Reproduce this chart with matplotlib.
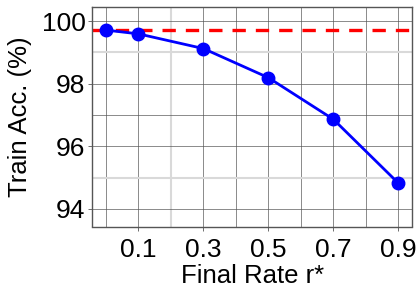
import numpy as np
import matplotlib
matplotlib.use('Agg')
import matplotlib.pyplot as plt

plt.rcParams['font.family'] = ['Liberation Sans', 'DejaVu Sans']

rates = [0.0, 0.1, 0.3, 0.5, 0.7, 0.9]
train_acc = [99.71, 99.59, 99.12, 98.19, 96.86, 94.82]
baseline = 99.72
xticks = [0.1, 0.3, 0.5, 0.7, 0.9]
yticks = [94, 96, 98, 100]

fig = plt.figure(figsize=(4.2, 3.0), dpi=100)
ax = fig.add_axes([0.22, 0.245, 0.762, 0.733])

# grid: light lines at the odd spots, thin dark lines elsewhere
for x in np.arange(0.0, 0.95, 0.1):
    if abs(x - 0.2) < 1e-6:
        ax.axvline(x, color='#d9d9d9', lw=1.5, zorder=0)
    else:
        ax.axvline(x, color='#555555', lw=0.6, alpha=0.8, zorder=0)
for y in range(94, 101):
    if y in (95, 99):
        ax.axhline(y, color='#d9d9d9', lw=1.5, zorder=0)
    else:
        ax.axhline(y, color='#555555', lw=0.6, alpha=0.8, zorder=0)

ax.axhline(baseline, color='red', lw=2.4, ls=(0, (4, 3)), zorder=2)
ax.plot(rates, train_acc, color='blue', lw=2.0, marker='o', ms=9, zorder=3)

ax.set_xlim(-0.0415, 0.943)
ax.set_ylim(93.44, 100.46)
ax.set_xticks(xticks)
ax.set_xticklabels(['0.1', '0.3', '0.5', '0.7', '0.9'])
ax.set_yticks(yticks)
ax.tick_params(labelsize=19, length=3, color='#555555', width=0.6)
ax.tick_params(axis='x', pad=5)
ax.tick_params(axis='y', pad=2)
for s in ax.spines.values():
    s.set_color('#555555')
    s.set_linewidth(1.0)
ax.set_xlabel('Final Rate r*', fontsize=18.5, labelpad=2)
ax.set_ylabel('Train Acc. (%)', fontsize=18.5, labelpad=7)

plt.savefig('out.png', dpi=100)
